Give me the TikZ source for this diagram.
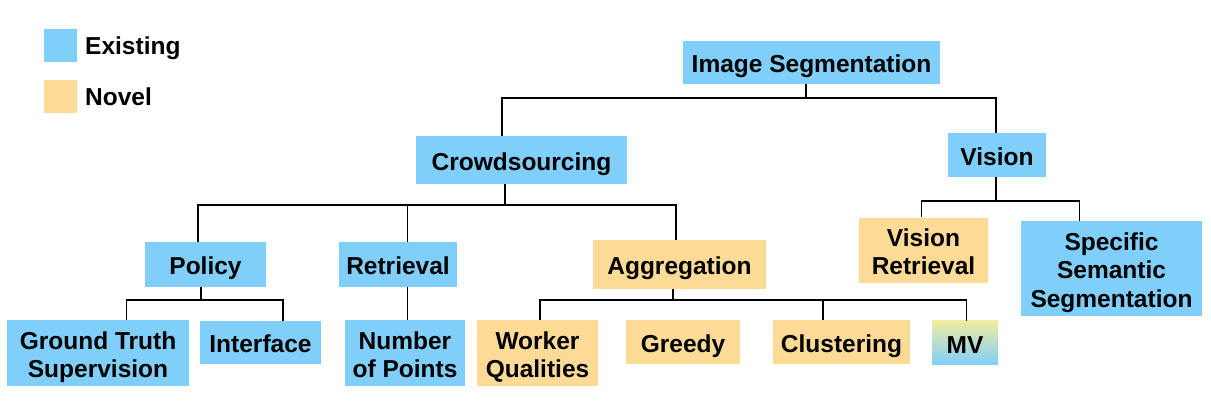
\documentclass[tikz,border=0pt]{standalone}
\usepackage{fontspec}
\setmainfont{Liberation Sans}
\definecolor{exist}{RGB}{128,207,250}
\definecolor{novel}{RGB}{253,218,150}
\definecolor{mvtop}{RGB}{240,236,160}
\newcommand\boxtext[1]{\raisebox{0pt}[\dimexpr\height+9.2pt\relax][\depth]{\begin{tabular}{@{}c@{}}#1\end{tabular}}}
\begin{document}
\begin{tikzpicture}[x=1pt,y=-1pt,
  every node/.style={font=\fontsize{24.5}{28.3}\selectfont\bfseries},
  box/.style={rectangle,inner sep=0pt,minimum width=#1},
  ex/.style={box=#1,fill=exist},
  nv/.style={box=#1,fill=novel},
  conn/.style={line width=1.6pt,black}]
\useasboundingbox (0,0) rectangle (1211,403);
% legend
\node[ex=33pt,minimum height=33pt] (legE) at (60.5,45.5) {};
\node[anchor=west,inner sep=0pt] (legEt) at (85,44) {\boxtext{Existing}};
\node[nv=33pt,minimum height=33pt] (legN) at (60.5,96.5) {};
\node[anchor=west,inner sep=0pt] (legNt) at (85,95.5) {\boxtext{Novel}};
% nodes
\node[ex=257pt,minimum height=43pt] (img) at (811.5,62.5) {\boxtext{Image Segmentation}};
\node[ex=211pt,minimum height=48pt] (crowd) at (521.5,160) {\boxtext{Crowdsourcing}};
\node[ex=98pt,minimum height=44pt] (vision) at (997,155) {\boxtext{Vision}};
\node[ex=121pt,minimum height=45pt] (policy) at (205.5,264.5) {\boxtext{Policy}};
\node[ex=118pt,minimum height=45pt] (retr) at (398,264.5) {\boxtext{Retrieval}};
\node[nv=173pt,minimum height=49pt] (aggr) at (679.5,264.5) {\boxtext{Aggregation}};
\node[nv=129pt,minimum height=58pt] (vret) at (923.5,250.5) {\boxtext{Vision\\Retrieval}};
\node[ex=181pt,minimum height=93pt] (sss) at (1111.5,268.5) {\boxtext{Specific\\Semantic\\Segmentation}};
\node[ex=182pt,minimum height=64pt] (gts) at (98,353) {\boxtext{Ground Truth\\Supervision}};
\node[ex=121pt,minimum height=43pt] (iface) at (260.5,342.5) {\boxtext{Interface}};
\node[ex=120pt,minimum height=64pt] (nop) at (405,353) {\boxtext{Number\\of Points}};
\node[nv=121pt,minimum height=64pt] (wq) at (537.5,353) {\boxtext{Worker\\Qualities}};
\node[nv=114pt,minimum height=44pt] (greedy) at (683,342) {\boxtext{Greedy}};
\node[nv=137pt,minimum height=44pt] (clust) at (841.5,342) {\boxtext{Clustering}};
\node[box=66pt,minimum height=44pt,top color=mvtop,bottom color=exist] (mv) at (965,343) {\boxtext{MV}};
% connectors
\coordinate (b1) at (806,98);
\draw[conn] ([xshift=-5.5pt]img.south) -- (b1);
\draw[conn] ([xshift=-19.5pt]crowd.north) |- (b1) -| ([xshift=-1pt]vision.north);
\coordinate (b2) at (505,205);
\draw[conn] ([xshift=-16.5pt]crowd.south) -- (b2);
\draw[conn] ([xshift=-7.5pt]policy.north) |- (b2) -| ([xshift=-3.5pt]aggr.north);
\draw[conn] ([xshift=9.5pt]retr.north) -- ([xshift=9.5pt]retr.north |- b2);
\coordinate (b3) at (996,201);
\draw[conn] ([xshift=-1pt]vision.south) -- (b3);
\draw[conn] ([xshift=-2pt]vret.north) |- (b3) -| ([xshift=-32pt]sss.north);
\coordinate (b4) at (201,300);
\draw[conn] ([xshift=-4.5pt]policy.south) -- (b4);
\draw[conn] ([xshift=28.5pt]gts.north) |- (b4) -| ([xshift=22.5pt]iface.north);
\draw[conn] ([xshift=9.5pt]retr.south) -- ([xshift=2.5pt]nop.north);
\coordinate (b5) at (673,300);
\draw[conn] ([xshift=-6.5pt]aggr.south) -- (b5);
\draw[conn] ([xshift=2.5pt]wq.north) |- (b5) -| ([xshift=-18.5pt]clust.north);
\draw[conn] ([xshift=-18.5pt]clust.north |- b5) -| ([xshift=1.5pt]mv.north);
\end{tikzpicture}
\end{document}
